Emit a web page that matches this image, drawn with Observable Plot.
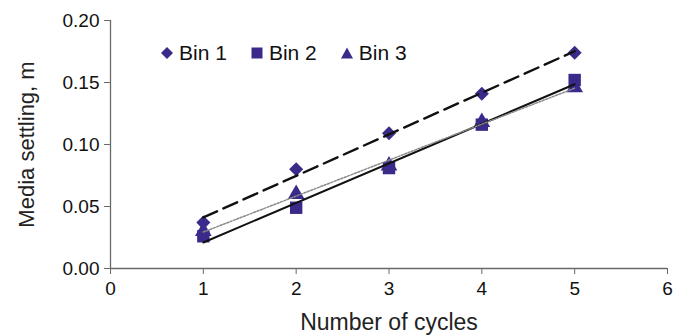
<!DOCTYPE html>
<html>
<head>
<meta charset="utf-8">
<script src="https://cdn.jsdelivr.net/npm/d3@7"></script>
<script src="https://cdn.jsdelivr.net/npm/@observablehq/plot@0.6"></script>
<style>
  html, body { margin: 0; padding: 0; background: #fff; }
  #wrap { position: relative; width: 673px; height: 335px; font-family: "Liberation Sans", Arial, sans-serif; }
  #legend { position: absolute; left: 161px; top: 41px; display: flex; align-items: center; font-size: 21px; color: #111; }
  #legend .item { display: flex; align-items: center; margin-right: 24px; }
  #legend svg { margin-right: 6px; }
</style>
</head>
<body>
<div id="wrap"></div>
<script>
const cycles = [1, 2, 3, 4, 5];
const bin1 = [0.037, 0.080, 0.109, 0.141, 0.174];
const bin2 = [0.026, 0.049, 0.081, 0.116, 0.152];
const bin3 = [0.030, 0.060, 0.083, 0.118, 0.146];
const seriesNames = ["Bin 1", "Bin 2", "Bin 3"];
const xTicks = [0, 1, 2, 3, 4, 5, 6];
const yTicks = [0, 0.05, 0.10, 0.15, 0.20];
const xLabel = "Number of cycles";
const yLabel = "Media settling, m";

const markColor = "#3b2a8a";
const axisColor = "#6a6a6a";

const seriesValues = [bin1, bin2, bin3];
const rows = seriesNames.flatMap((s, i) => cycles.map((c, j) => ({series: s, x: c, y: seriesValues[i][j]})));
const bySeries = s => rows.filter(d => d.series === s);

// square rotated 45° (Excel-style diamond marker)
const squareDiamond = {
  draw(context, size) {
    const h = Math.sqrt(size / 2);
    context.moveTo(0, -h);
    context.lineTo(h, 0);
    context.lineTo(0, h);
    context.lineTo(-h, 0);
    context.closePath();
  }
};
const symbols = [squareDiamond, "square", "triangle"];
const radii = [5.6, 7, 6.2];
const lineStyles = [
  {stroke: "#111", strokeWidth: 2.4, strokeDasharray: "15,7"},
  {stroke: "#111", strokeWidth: 2},
  {stroke: "#8a8a8a", strokeWidth: 1.5, strokeDasharray: "2,1.6"}
];

const font = "Liberation Sans, Arial, sans-serif";

const chart = Plot.plot({
  width: 673,
  height: 335,
  marginLeft: 110,
  marginRight: 6,
  marginTop: 20,
  marginBottom: 67,
  style: {fontFamily: font, background: "#fff", color: "#111"},
  x: {domain: [0, 6], ticks: xTicks},
  y: {domain: [0, 0.2], ticks: yTicks},
  marks: [
    Plot.axisX({ticks: xTicks, tickSize: 6, tickPadding: 7, fontSize: 19, stroke: axisColor, tickFormat: d3.format("d"), label: null}),
    Plot.axisY({ticks: yTicks, tickSize: 6, tickPadding: 5, fontSize: 19, stroke: axisColor, tickFormat: d3.format(".2f"), label: null}),
    Plot.ruleY([0], {x1: 0, x2: 6, stroke: axisColor, strokeWidth: 1.3}),
    Plot.ruleX([0], {y1: 0, y2: 0.2, stroke: axisColor, strokeWidth: 1.3}),
    ...seriesNames.map((s, i) => Plot.dot(bySeries(s), {x: "x", y: "y", symbol: symbols[i], fill: markColor, r: radii[i], stroke: "none"})),
    ...seriesNames.map((s, i) => Plot.linearRegressionY(bySeries(s), {x: "x", y: "y", ci: 0, ...lineStyles[i]})),
    Plot.text([xLabel], {frameAnchor: "bottom", dy: 61, fontSize: 23, fill: "#222"}),
    Plot.text([yLabel], {frameAnchor: "left", textAnchor: "middle", dx: -84, rotate: -90, fontSize: 22, fill: "#222"})
  ]
});

const wrap = document.getElementById("wrap");
wrap.appendChild(chart);

const legend = document.createElement("div");
legend.id = "legend";
const shapes = [
  '<polygon points="6,0 12,6 6,12 0,6"/>',
  '<rect x="0.5" y="0.5" width="11" height="11"/>',
  '<polygon points="6,0.5 12,11.5 0,11.5"/>'
];
seriesNames.forEach((s, i) => {
  const item = document.createElement("div");
  item.className = "item";
  item.innerHTML = `<svg width="12" height="12" viewBox="0 0 12 12" fill="${markColor}">${shapes[i]}</svg><span>${s}</span>`;
  legend.appendChild(item);
});
wrap.appendChild(legend);
</script>
</body>
</html>
